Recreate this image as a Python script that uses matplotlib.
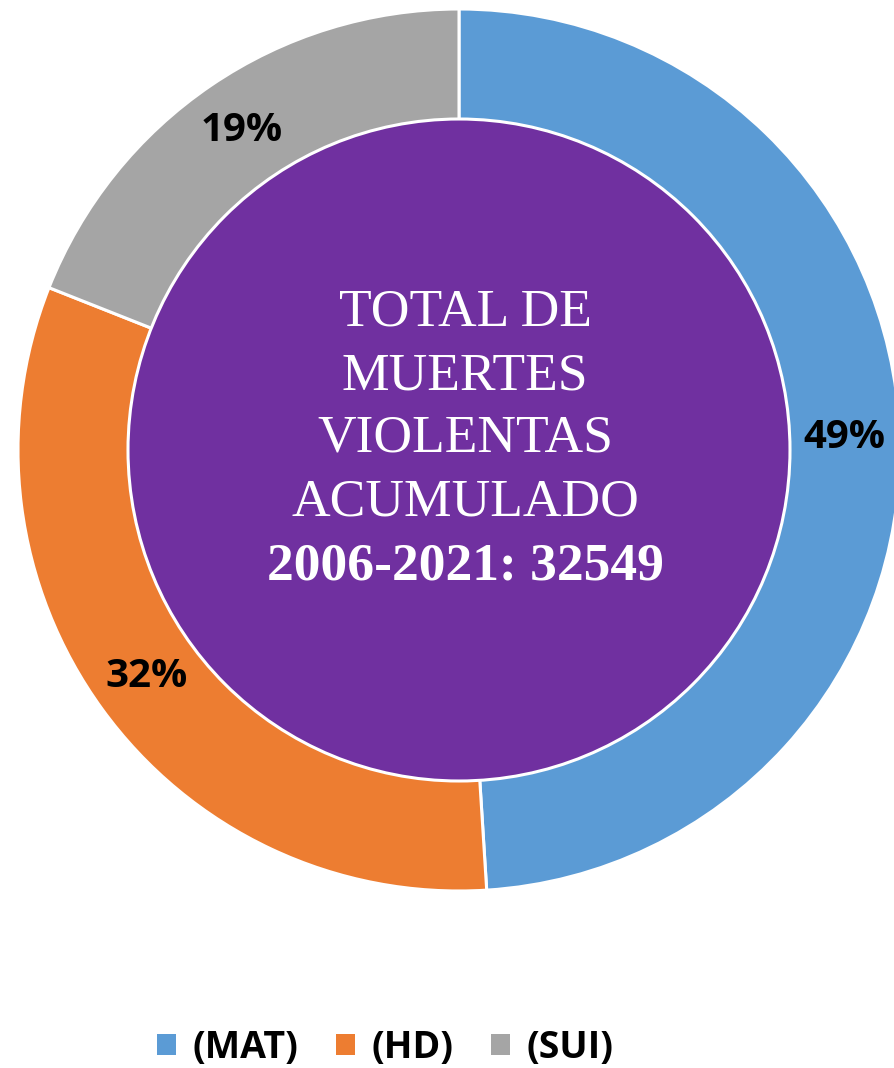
import matplotlib.pyplot as plt
from matplotlib.patches import Circle, Patch

# Chart data
categories = ["(MAT)", "(HD)", "(SUI)"]
shares = [49, 32, 19]
colors = ["#5B9BD5", "#ED7D31", "#A5A5A5"]
center_lines = ["TOTAL DE", "MUERTES", "VIOLENTAS", "ACUMULADO"]
center_total = "2006-2021: 32549"

# Figure in pixel units
fig = plt.figure(figsize=(8.94, 10.68), dpi=100)
ax = fig.add_axes([0, 0, 1, 1])

cx, cy = 459, 618
outer_r = 441
inner_r = 331

wedges, texts, autotexts = ax.pie(
    shares,
    colors=colors,
    startangle=90,
    counterclock=False,
    center=(cx, cy),
    radius=outer_r,
    autopct=lambda p: "%d%%" % round(p),
    pctdistance=0.875,
    wedgeprops=dict(edgecolor="white", linewidth=2.2),
    textprops=dict(fontsize=29, fontweight="bold", family="Open Sans", color="black"))

ax.set_xlim(0, 894)
ax.set_ylim(0, 1068)
ax.set_aspect("equal")
ax.axis("off")

# Purple center disc
ax.add_patch(Circle((cx, cy), inner_r, facecolor="#7030A0",
                    edgecolor="white", linewidth=2.2, zorder=3))

# Center text
line_y = [313, 376, 439, 503]
for text, y in zip(center_lines, line_y):
    ax.text(cx + 6, 1068 - y, text, ha="center", va="center", color="white",
            fontsize=38.5, family="Liberation Serif", zorder=4)
ax.text(cx + 6, 1068 - 567, center_total, ha="center", va="center", color="white",
        fontsize=38.5, family="Liberation Serif", fontweight="bold", zorder=4)

# Legend
handles = [Patch(facecolor=c, edgecolor="none") for c in colors]
fig.legend(handles, categories, loc="center", bbox_to_anchor=(0.431, 0.019),
           ncol=3, frameon=False, handlelength=0.5, handleheight=0.5,
           handletextpad=0.45, columnspacing=1.0,
           prop=dict(family="Open Sans", weight="bold", size=27))

plt.savefig("out.png", dpi=100)
